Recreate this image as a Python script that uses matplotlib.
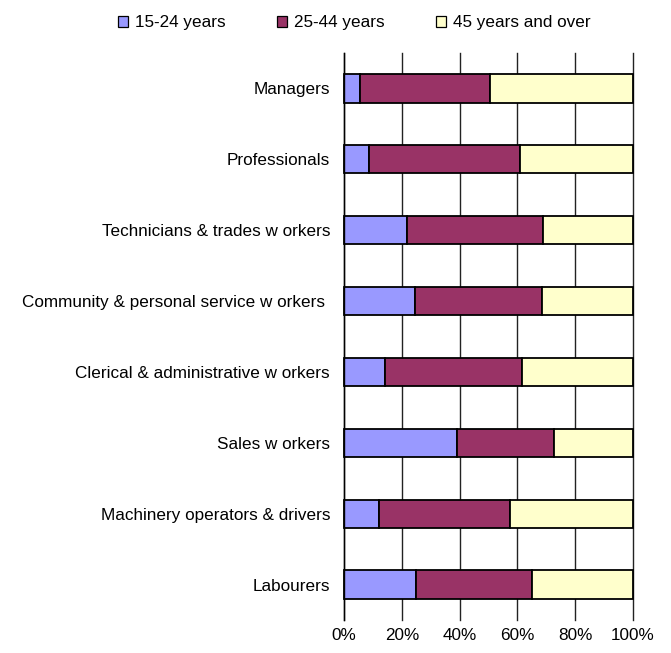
import matplotlib.pyplot as plt
import numpy as np
from matplotlib.patches import Patch

plt.rcParams['font.family'] = ['Liberation Sans', 'DejaVu Sans']

occupations = ['Managers', 'Professionals', 'Technicians & trades w orkers',
               'Community & personal service w orkers ', 'Clerical & administrative w orkers',
               'Sales w orkers', 'Machinery operators & drivers', 'Labourers']
age_15_24 = [5.7, 8.6, 21.8, 24.7, 14.2, 39.2, 12.1, 24.9]
age_25_44 = [44.8, 52.4, 47.1, 43.7, 47.4, 33.3, 45.5, 40.1]
age_45_over = [100 - a - b for a, b in zip(age_15_24, age_25_44)]
series_names = ['15-24 years', '25-44 years', '45 years and over']
colors = ['#9999FF', '#993366', '#FFFFCC']
x_ticks = [0, 20, 40, 60, 80, 100]

fig = plt.figure(figsize=(6.71, 6.53), dpi=100)
ax = fig.add_axes([344 / 671, 33 / 653, 289 / 671, 567 / 653])

y = np.arange(len(occupations))
left = np.zeros(len(occupations))
for vals, c in zip([age_15_24, age_25_44, age_45_over], colors):
    ax.barh(y, vals, left=left, height=0.4, color=c, edgecolor='black',
            linewidth=1.3, zorder=3, clip_on=False)
    left = left + np.array(vals)

ax.set_ylim(len(occupations) - 0.5, -0.5)
ax.set_xlim(0, 100)
ax.set_yticks(y)
ax.set_yticklabels(occupations, fontsize=12.3)
ax.set_xticks(x_ticks)
ax.set_xticklabels([f'{t}%' for t in x_ticks], fontsize=12.3)
ax.tick_params(axis='x', length=0, pad=6)
ax.tick_params(axis='y', length=0, pad=10)
ax.xaxis.grid(True, color='#222222', linewidth=1.0, zorder=0, clip_on=False)
for gl in ax.get_xgridlines():
    gl.set_clip_on(False)
for s in ['top', 'right', 'bottom']:
    ax.spines[s].set_visible(False)
ax.spines['left'].set_color('black')
ax.spines['left'].set_linewidth(1.0)
ax.spines['left'].set_zorder(4)

handles = [Patch(facecolor=c, edgecolor='black', linewidth=0.9) for c in colors]
fig.legend(handles, series_names, loc='center', bbox_to_anchor=(0.528, 0.965), ncol=3,
           frameon=False, fontsize=12.3, handlelength=0.6, handleheight=0.6,
           handletextpad=0.4, columnspacing=3.0)

fig.savefig('out.png', dpi=100)
